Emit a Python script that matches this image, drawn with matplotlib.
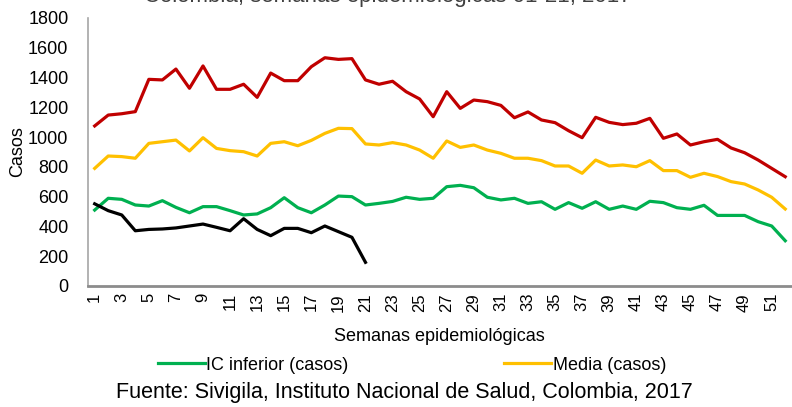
import matplotlib
matplotlib.use('Agg')
import matplotlib.pyplot as plt
from matplotlib import font_manager

# fuente tipo Arial Narrow si existe
names = {f.name for f in font_manager.fontManager.ttflist}
fam = 'Liberation Sans Narrow' if 'Liberation Sans Narrow' in names else 'Liberation Sans'
plt.rcParams['font.family'] = [fam, 'DejaVu Sans']

# datos
semanas = list(range(1, 53))
ic_superior = [1075, 1148, 1157, 1171, 1388, 1384, 1457, 1328, 1478, 1321,
               1321, 1355, 1267, 1430, 1379, 1379, 1473, 1533, 1522, 1527,
               1384, 1355, 1375, 1305, 1256, 1137, 1305, 1193, 1249, 1238,
               1213, 1130, 1169, 1115, 1097, 1043, 996, 1133, 1099, 1084,
               1093, 1126, 992, 1021, 947, 969, 985, 927, 895, 846,
               790, 734]
media = [790, 873, 869, 858, 958, 969, 980, 907, 996, 924,
         909, 902, 873, 958, 969, 942, 978, 1025, 1059, 1057,
         954, 947, 963, 947, 913, 858, 974, 931, 947, 913,
         891, 858, 858, 842, 806, 806, 757, 846, 806, 813,
         801, 842, 775, 775, 730, 757, 735, 701, 685, 645,
         596, 517]
ic_inferior = [510, 589, 582, 544, 537, 573, 528, 492, 533, 533,
               506, 477, 484, 526, 593, 526, 492, 544, 604, 600,
               544, 555, 568, 596, 582, 589, 667, 676, 660, 596,
               578, 589, 555, 566, 515, 560, 522, 566, 515, 537,
               515, 569, 560, 526, 515, 542, 474, 474, 474, 432,
               403, 304]
casos_2017 = [552, 506, 477, 371, 380, 383, 390, 403, 416, 394,
              371, 452, 380, 338, 387, 387, 358, 403, 365, 327,
              159]
xticks = list(range(1, 53, 2))

fig = plt.figure(figsize=(7.92, 4.07), dpi=100)
ax = fig.add_axes([0.111, 0.2973, 0.889, 0.6585])

lw = 2.3
ax.plot(semanas, ic_superior, color='#C00000', lw=lw, label='IC superior (casos)')
ax.plot(semanas, media, color='#FFC000', lw=lw, label='Media (casos)')
ax.plot(semanas, ic_inferior, color='#00B050', lw=lw, label='IC inferior (casos)')
ax.plot(semanas[:len(casos_2017)], casos_2017, color='black', lw=lw, label='Casos 2017')

ax.set_xlim(0.5, 52.5)
ax.set_ylim(0, 1800)
ax.set_yticks(range(0, 1801, 200))
ax.set_xticks(xticks)
ax.set_xticklabels([str(s) for s in xticks], rotation=90, fontsize=12)
ax.tick_params(axis='y', labelsize=13, length=0, pad=14)
ax.tick_params(axis='x', length=0, pad=5)

for s in ['top', 'right']:
    ax.spines[s].set_visible(False)
ax.spines['left'].set_color('#A6A6A6')
ax.spines['left'].set_linewidth(1.2)
ax.spines['bottom'].set_color('#8C8C8C')
ax.spines['bottom'].set_linewidth(2)

ax.set_ylabel('Casos', fontsize=13, labelpad=0)
ax.yaxis.set_label_coords(-0.088, 0.5)
fig.text(0.555, 0.172, 'Semanas epidemiológicas', ha='center', va='center', fontsize=13)

# titulo cortado en la parte superior, como en la imagen original
fig.text(0.49, 1.008, 'Colombia, semanas epidemiológicas 01-21, 2017',
         ha='center', va='center', fontsize=16, color='#404040')

h = ax.get_lines()
fig.legend(handles=[h[2], h[1]], labels=['IC inferior (casos)', 'Media (casos)'],
           loc='center', bbox_to_anchor=(0.52, 0.103), ncol=2, frameon=False,
           fontsize=13, handlelength=2.6, handletextpad=0.1, columnspacing=8.6)

fig.text(0.51, 0.035, 'Fuente: Sivigila, Instituto Nacional de Salud, Colombia, 2017',
         ha='center', va='center', fontsize=15.5)

fig.savefig('out.png', dpi=100)
